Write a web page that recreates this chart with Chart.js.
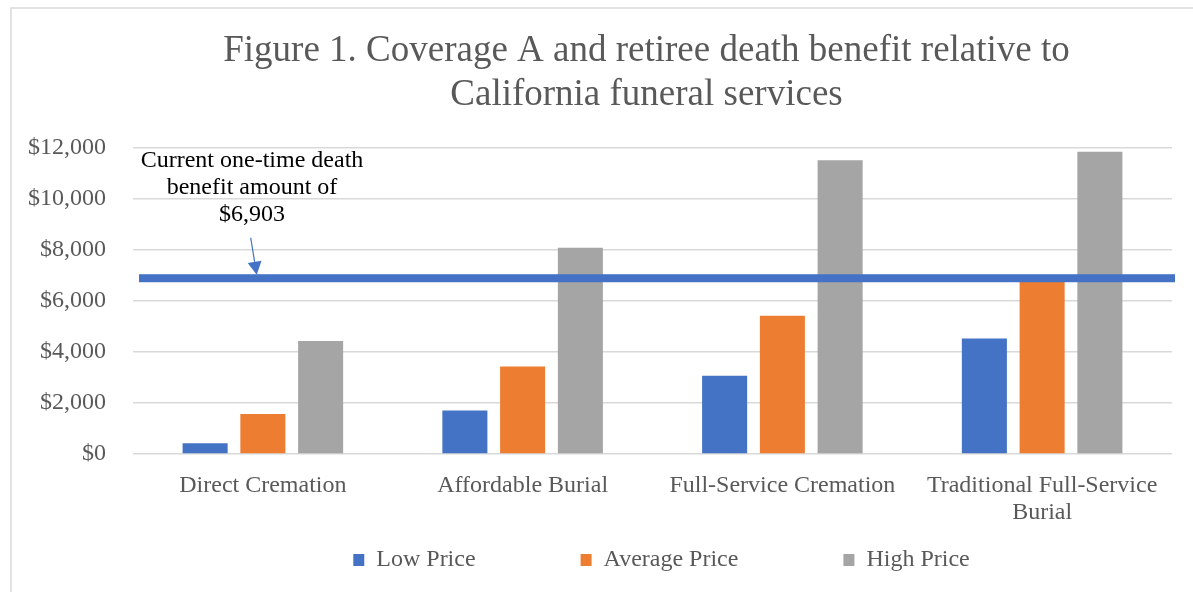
<!DOCTYPE html>
<html>
<head>
<meta charset="utf-8">
<script src="https://cdn.jsdelivr.net/npm/chart.js@4.4.1/dist/chart.umd.min.js"></script>
<style>
  html, body { margin: 0; padding: 0; background: #ffffff; }
  #wrap { width: 1193px; height: 592px; }
</style>
</head>
<body>
<div id="wrap"><canvas id="c" width="1193" height="592"></canvas></div>
<script>
// ---- Data ----
const categories = ['Direct Cremation', 'Affordable Burial', 'Full-Service Cremation', ['Traditional Full-Service', 'Burial']];
const seriesNames = ['Low Price', 'Average Price', 'High Price'];
const lowPrice = [420, 1700, 3060, 4520];
const averagePrice = [1570, 3430, 5410, 6850];
const highPrice = [4430, 8080, 11500, 11840];
const benefitAmount = 6903;
const yTickValues = [0, 2000, 4000, 6000, 8000, 10000, 12000];
const titleLines = ['Figure 1. Coverage A and retiree death benefit relative to', 'California funeral services'];
const annotationLines = ['Current one-time death', 'benefit amount of', '$' + benefitAmount.toLocaleString('en-US')];

const SERIF = '"Liberation Serif", "Times New Roman", serif';
const TEXT_GRAY = '#595959';
const colors = ['#4472C4', '#ED7D31', '#A5A5A5'];
const LEGEND_PAD = 105;
const LEGEND_FONT = 24;

const framePlugin = {
  id: 'frame',
  beforeDraw(chart) {
    const ctx = chart.ctx;
    ctx.save();
    ctx.fillStyle = '#ffffff';
    ctx.fillRect(0, 0, chart.width, chart.height);
    ctx.strokeStyle = '#D9D9D9';
    ctx.lineWidth = 1.5;
    ctx.beginPath();
    ctx.moveTo(11, chart.height + 2);
    ctx.lineTo(11, 8);
    ctx.lineTo(chart.width + 2, 8);
    ctx.stroke();
    ctx.restore();
  }
};

// keep the legend's wide horizontal item spacing without its tall reserved height
const legendPlacePlugin = {
  id: 'legendPlace',
  afterLayout(chart) {
    const lg = chart.legend;
    if (lg) {
      const center = (lg.top + lg.bottom) / 2 + 2;
      lg.top = center - LEGEND_PAD - LEGEND_FONT / 2;
      lg.bottom = lg.top + LEGEND_PAD + LEGEND_FONT + 20;
      lg.left += 9;
      lg.right += 9;
    }
    const tb = chart.titleBlock;
    if (tb) {
      tb.left -= 6;
      tb.right -= 6;
    }
  }
};

const benefitPlugin = {
  id: 'benefitLine',
  afterDatasetsDraw(chart) {
    const { ctx, chartArea } = chart;
    const y = chart.scales.y;
    const yPix = y.getPixelForValue(benefitAmount);
    ctx.save();
    ctx.fillStyle = '#4472C4';
    ctx.fillRect(chartArea.left + 6, yPix - 3.5, (chartArea.right + 3) - (chartArea.left + 6), 8);
    ctx.fillStyle = '#000000';
    ctx.font = '24px ' + SERIF;
    ctx.textAlign = 'center';
    ctx.textBaseline = 'middle';
    const cx = chartArea.left + 119;
    annotationLines.forEach((t, i) => ctx.fillText(t, cx, yPix - 117 + i * 27));
    const x0 = chartArea.left + 117.7, y0 = yPix - 40;
    const x1 = chartArea.left + 123.7, y1 = yPix - 3;
    const dx = x1 - x0, dy = y1 - y0;
    const len = Math.hypot(dx, dy);
    const ux = dx / len, uy = dy / len;
    const headLen = 13, headHalf = 7;
    const bx = x1 - ux * headLen, by = y1 - uy * headLen;
    ctx.strokeStyle = '#4472C4';
    ctx.lineWidth = 1.2;
    ctx.beginPath();
    ctx.moveTo(x0, y0);
    ctx.lineTo(bx, by);
    ctx.stroke();
    ctx.fillStyle = '#4472C4';
    ctx.beginPath();
    ctx.moveTo(x1, y1);
    ctx.lineTo(bx - uy * headHalf, by + ux * headHalf);
    ctx.lineTo(bx + uy * headHalf, by - ux * headHalf);
    ctx.closePath();
    ctx.fill();
    ctx.restore();
  }
};

const seriesData = [lowPrice, averagePrice, highPrice];

new Chart(document.getElementById('c'), {
  type: 'bar',
  data: {
    labels: categories,
    datasets: seriesNames.map((name, i) => ({
      label: name,
      data: seriesData[i],
      backgroundColor: colors[i],
      borderWidth: 0,
      categoryPercentage: 0.667,
      barPercentage: 0.78
    }))
  },
  options: {
    responsive: false,
    animation: false,
    devicePixelRatio: 1,
    layout: { padding: { left: 1, right: 21, top: 8, bottom: 12 } },
    plugins: {
      tooltip: { enabled: false },
      title: {
        display: true,
        text: titleLines,
        color: TEXT_GRAY,
        fullSize: false,
        font: { family: SERIF, size: 37, weight: 'normal', lineHeight: 1.17 },
        padding: { top: 22, bottom: 31 }
      },
      legend: {
        position: 'bottom',
        fullSize: false,
        maxHeight: 44,
        labels: {
          color: TEXT_GRAY,
          font: { family: SERIF, size: LEGEND_FONT },
          boxWidth: 11,
          boxHeight: 12,
          padding: LEGEND_PAD
        }
      }
    },
    scales: {
      x: {
        grid: { display: false },
        border: { display: false },
        ticks: {
          color: TEXT_GRAY,
          font: { family: SERIF, size: 24, lineHeight: 1.125 },
          padding: 10,
          maxRotation: 0,
          autoSkip: false
        },
        afterFit(scale) { scale.height = 82; }
      },
      y: {
        min: 0,
        max: 12000,
        afterBuildTicks(scale) { scale.ticks = yTickValues.map(v => ({ value: v })); },
        grid: { color: '#D9D9D9', lineWidth: 1.5, drawTicks: false },
        border: { display: false },
        ticks: {
          color: TEXT_GRAY,
          font: { family: SERIF, size: 24 },
          padding: 27,
          callback: (v) => '$' + Number(v).toLocaleString('en-US')
        }
      }
    }
  },
  plugins: [framePlugin, legendPlacePlugin, benefitPlugin]
});
</script>
</body>
</html>
